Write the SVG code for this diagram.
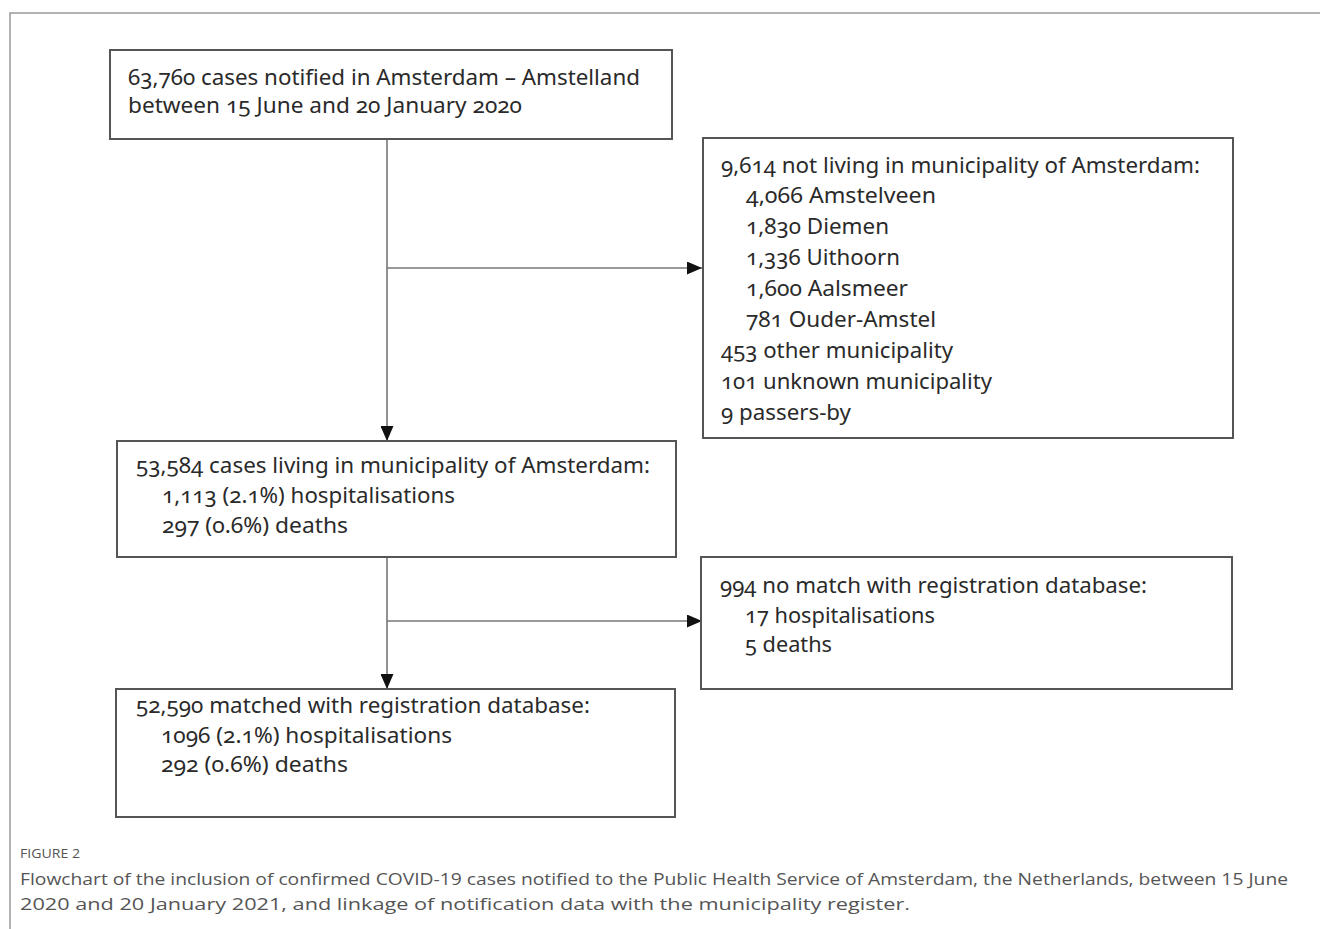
<svg xmlns="http://www.w3.org/2000/svg" width="1320" height="929" viewBox="0 0 1320 929">
<defs>
<style>
.box{fill:#fff;stroke:#555;stroke-width:2}
.t{font-family:"Noto Sans","Liberation Sans",sans-serif;font-size:22px;fill:#2a2a2a;font-variant-numeric:oldstyle-nums}
.conn{stroke:#777;stroke-width:1.6;fill:none}
.cap{font-family:"Open Sans","Liberation Sans",sans-serif;fill:#555}
</style>
<marker id="ah" viewBox="0 0 15 13" refX="15" refY="6.5" markerWidth="15" markerHeight="13" markerUnits="userSpaceOnUse" orient="auto">
<path d="M0,0 L15,6.5 L0,13 Z" fill="#111"/>
</marker>
</defs>
<rect width="1320" height="929" fill="#fff"/>
<path d="M10,929 V13 H1320" fill="none" stroke="#999" stroke-width="1.5"/>

<g id="connectors">
<path class="conn" d="M387,139 V441" marker-end="url(#ah)"/>
<path class="conn" d="M387,268 H702" marker-end="url(#ah)"/>
<path class="conn" d="M387,557 V689" marker-end="url(#ah)"/>
<path class="conn" d="M387,621 H702" marker-end="url(#ah)"/>
</g>

<g id="node-notified">
<rect class="box" x="110" y="50" width="562" height="89"/>
<text class="t" x="128" y="85" textLength="512" lengthAdjust="spacingAndGlyphs">63,760 cases notified in Amsterdam – Amstelland</text>
<text class="t" x="128" y="113" textLength="394" lengthAdjust="spacingAndGlyphs">between 15 June and 20 January 2020</text>
</g>

<g id="node-not-living">
<rect class="box" x="703" y="138" width="530" height="300"/>
<text class="t" x="721" y="173" textLength="479" lengthAdjust="spacingAndGlyphs">9,614 not living in municipality of Amsterdam:</text>
<text class="t" x="746" y="203" textLength="190" lengthAdjust="spacingAndGlyphs">4,066 Amstelveen</text>
<text class="t" x="746" y="234" textLength="143" lengthAdjust="spacingAndGlyphs">1,830 Diemen</text>
<text class="t" x="746" y="265" textLength="154" lengthAdjust="spacingAndGlyphs">1,336 Uithoorn</text>
<text class="t" x="746" y="296" textLength="162" lengthAdjust="spacingAndGlyphs">1,600 Aalsmeer</text>
<text class="t" x="746" y="327" textLength="190" lengthAdjust="spacingAndGlyphs">781 Ouder-Amstel</text>
<text class="t" x="721" y="358" textLength="232" lengthAdjust="spacingAndGlyphs">453 other municipality</text>
<text class="t" x="721" y="389" textLength="271" lengthAdjust="spacingAndGlyphs">101 unknown municipality</text>
<text class="t" x="721" y="420" textLength="130" lengthAdjust="spacingAndGlyphs">9 passers-by</text>
</g>

<g id="node-living">
<rect class="box" x="117" y="441" width="559" height="116"/>
<text class="t" x="136" y="473" textLength="514" lengthAdjust="spacingAndGlyphs">53,584 cases living in municipality of Amsterdam:</text>
<text class="t" x="162" y="503" textLength="293" lengthAdjust="spacingAndGlyphs">1,113 (2.1%) hospitalisations</text>
<text class="t" x="162" y="533" textLength="186" lengthAdjust="spacingAndGlyphs">297 (0.6%) deaths</text>
</g>

<g id="node-no-match">
<rect class="box" x="701" y="557" width="531" height="132"/>
<text class="t" x="720" y="593" textLength="427" lengthAdjust="spacingAndGlyphs">994 no match with registration database:</text>
<text class="t" x="745" y="623" textLength="190" lengthAdjust="spacingAndGlyphs">17 hospitalisations</text>
<text class="t" x="745" y="652" textLength="87" lengthAdjust="spacingAndGlyphs">5 deaths</text>
</g>

<g id="node-matched">
<rect class="box" x="116" y="689" width="559" height="128"/>
<text class="t" x="136" y="713" textLength="454" lengthAdjust="spacingAndGlyphs">52,590 matched with registration database:</text>
<text class="t" x="161" y="743" textLength="291" lengthAdjust="spacingAndGlyphs">1096 (2.1%) hospitalisations</text>
<text class="t" x="161" y="772" textLength="187" lengthAdjust="spacingAndGlyphs">292 (0.6%) deaths</text>
</g>

<g id="caption">
<text class="cap" x="20" y="858" font-size="13" textLength="60" lengthAdjust="spacingAndGlyphs">FIGURE 2</text>
<text class="cap" x="20" y="885" font-size="17" textLength="1268" lengthAdjust="spacingAndGlyphs">Flowchart of the inclusion of confirmed COVID-19 cases notified to the Public Health Service of Amsterdam, the Netherlands, between 15 June</text>
<text class="cap" x="20" y="910" font-size="17" textLength="890" lengthAdjust="spacingAndGlyphs">2020 and 20 January 2021, and linkage of notification data with the municipality register.</text>
</g>
</svg>
